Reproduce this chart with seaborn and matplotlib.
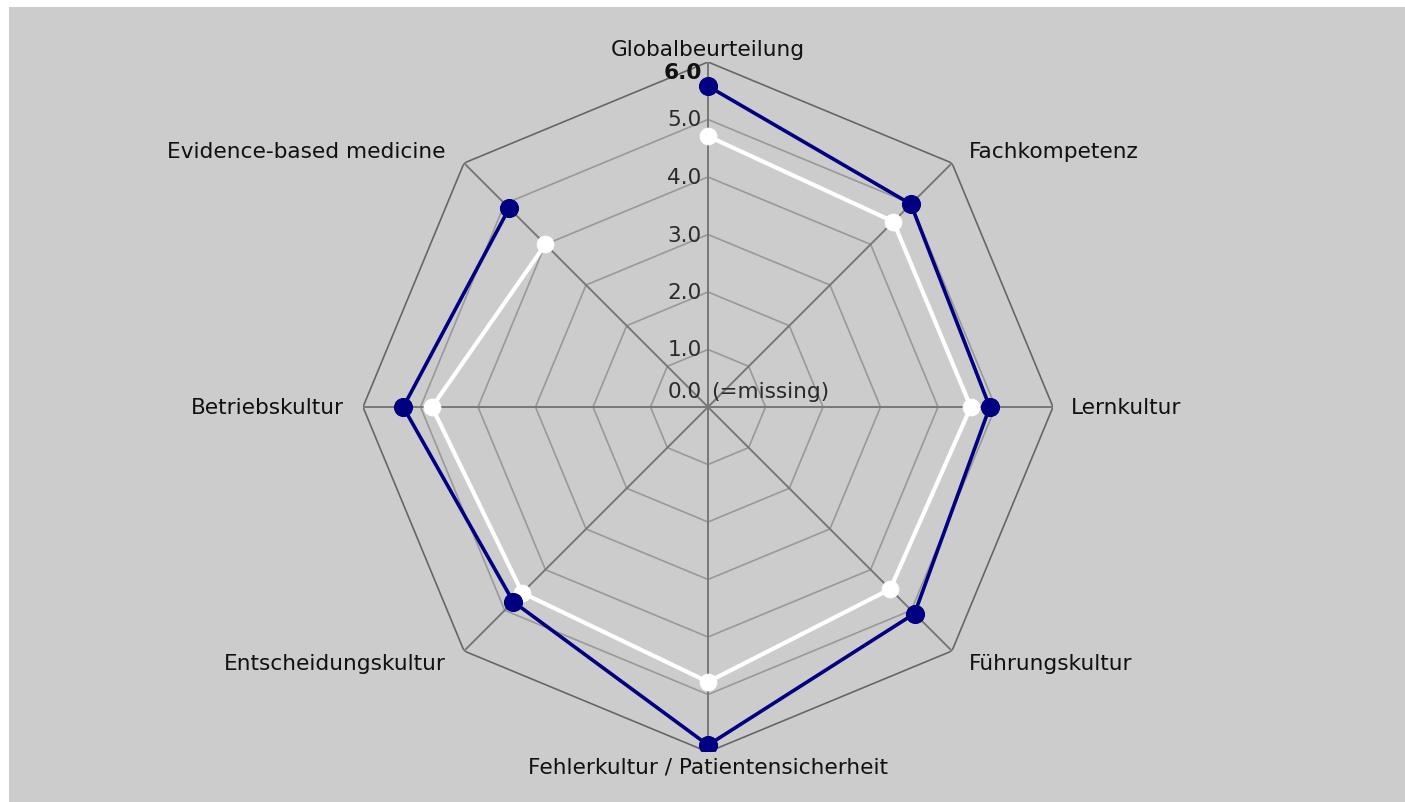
import numpy as np
import pandas as pd
import matplotlib
matplotlib.use("Agg")
import matplotlib.pyplot as plt
import seaborn as sns
from matplotlib.patches import Rectangle

# data
categories = ["Globalbeurteilung", "Fachkompetenz", "Lernkultur", "Führungskultur",
              "Fehlerkultur / Patientensicherheit", "Entscheidungskultur",
              "Betriebskultur", "Evidence-based medicine"]
blue_values = [5.58, 4.99, 4.90, 5.08, 5.88, 4.79, 5.30, 4.89]
white_values = [4.71, 4.56, 4.57, 4.48, 4.78, 4.57, 4.80, 4.00]
ring_values = [1, 2, 3, 4, 5, 6]
tick_labels = ["1.0", "2.0", "3.0", "4.0", "5.0", "6.0"]

sns.set_style("white")
plt.rcParams["font.family"] = ["DejaVu Sans"]

BG = "#cccccc"
fig = plt.figure(figsize=(14.05, 8.03), dpi=100)
fig.patch.set_facecolor("white")
fig.patches.append(Rectangle((9 / 1405, 0), 1, 1 - 8 / 803, transform=fig.transFigure,
                             facecolor=BG, edgecolor="none", zorder=-10))

ax = fig.add_axes([(708 - 345) / 1405, 50 / 803, 690 / 1405, 690 / 803], projection="polar")
ax.set_facecolor("none")
ax.set_theta_zero_location("N")
ax.set_theta_direction(-1)
ax.set_ylim(0, 6)
ax.grid(False)
ax.set_xticks([])
ax.set_yticks([])
ax.spines["polar"].set_visible(False)

n = len(categories)
angles = np.arange(n) * 2 * np.pi / n
closed = np.append(angles, angles[0])

# polygon rings
for rv in ring_values:
    col = "#666666" if rv == 6 else "#999999"
    ax.plot(closed, [rv] * (n + 1), color=col, lw=1.2, zorder=1)
# spokes
for a in angles:
    ax.plot([a, a], [0, 6], color="#777777", lw=1.4, zorder=1)

def series_df(vals):
    return pd.DataFrame({"theta": closed, "r": list(vals) + [vals[0]]})

sns.lineplot(data=series_df(white_values), x="theta", y="r", sort=False, ax=ax,
             color="white", lw=3, marker="o", markersize=12, markeredgecolor="white",
             zorder=3)
sns.lineplot(data=series_df(blue_values), x="theta", y="r", sort=False, ax=ax,
             color="#000080", lw=2.6, marker="o", markersize=13, markeredgecolor="#000080",
             zorder=4)
ax.set_xlabel("")
ax.set_ylabel("")
ax.set_ylim(0, 6)

FS = 15.6
# radial tick labels
for rv, lab in zip(ring_values, tick_labels):
    r = rv if rv < 6 else 5.82
    ax.annotate(lab, xy=(0, r), xytext=(-4.5, 0), textcoords="offset points",
                ha="right", va="center", fontsize=FS, color="#111111" if rv == 6 else "#2a2a2a",
                fontweight="bold" if rv == 6 else "normal", annotation_clip=False, zorder=6)
ax.annotate("0.0", xy=(0, 0), xytext=(-4.5, 11.5), textcoords="offset points",
            ha="right", va="center", fontsize=FS, color="#2a2a2a", annotation_clip=False)
ax.annotate("(=missing)", xy=(0, 0), xytext=(2, 11.5), textcoords="offset points",
            ha="left", va="center", fontsize=FS, color="#2a2a2a", annotation_clip=False)

# category labels
offsets = [(0, 2, "center", "bottom"), (12, 8.6, "left", "center"), (13, 0, "left", "center"),
           (12, -8.6, "left", "center"), (0, -3, "center", "top"), (-13, -8.6, "right", "center"),
           (-13.7, 0, "right", "center"), (-13, 8.6, "right", "center")]
for a, lab, (dx, dy, ha, va) in zip(angles, categories, offsets):
    ax.annotate(lab, xy=(a, 6), xytext=(dx, dy), textcoords="offset points",
                ha=ha, va=va, fontsize=FS, color="#111111", annotation_clip=False)

fig.savefig("out.png", dpi=100, facecolor=fig.get_facecolor())
